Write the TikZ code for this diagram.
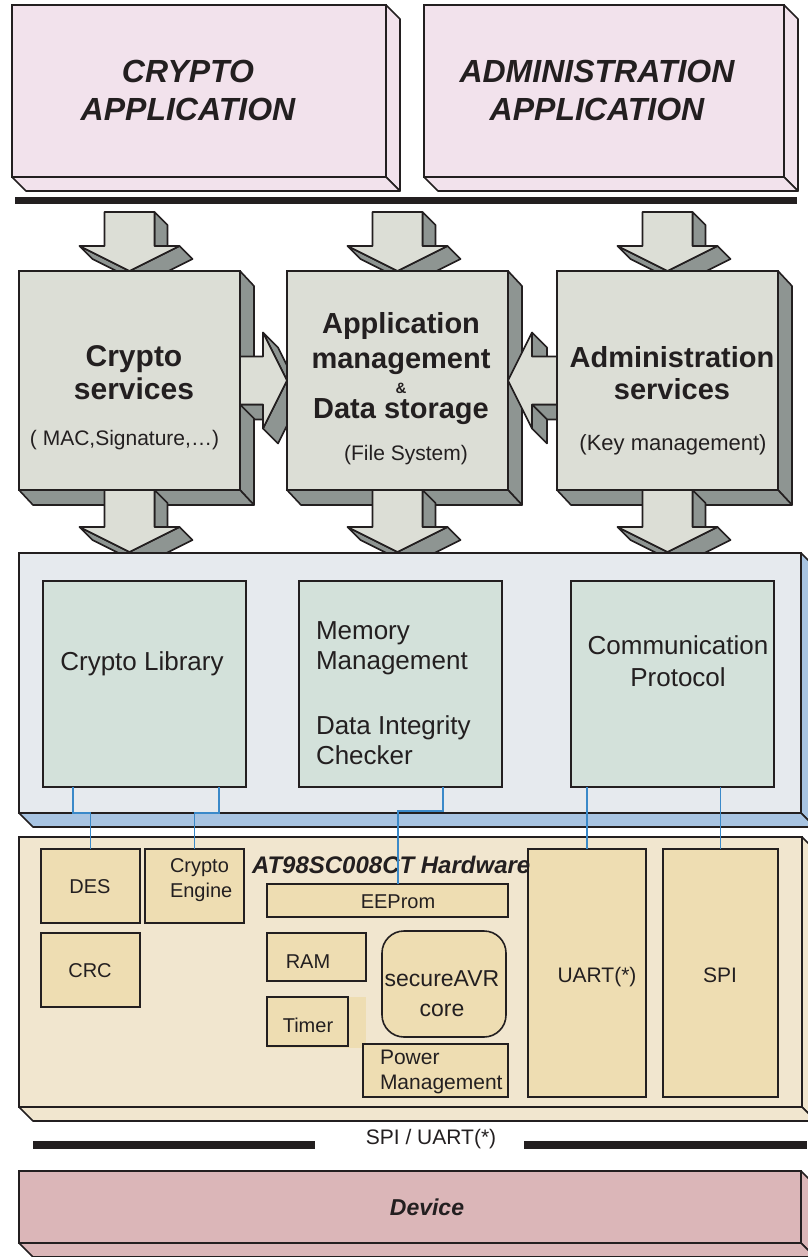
\documentclass[tikz,border=0pt]{standalone}
\usepackage{fontspec}
\setmainfont{Liberation Sans}
\usetikzlibrary{calc}
\definecolor{ink}{HTML}{231F20}
\definecolor{apppink}{HTML}{F2E2EC}
\definecolor{svcface}{HTML}{DCDED6}
\definecolor{svcside}{HTML}{8E9592}
\definecolor{swface}{HTML}{E6EAEE}
\definecolor{swside}{HTML}{A8C4E2}
\definecolor{swbox}{HTML}{D3E1DA}
\definecolor{hwface}{HTML}{F1E6CF}
\definecolor{hwbox}{HTML}{EEDDB2}
\definecolor{devpink}{HTML}{DBB6B8}
\definecolor{wirecol}{HTML}{3A89C9}
\tikzset{
  box/.style={draw=ink, line width=1.6pt, inner sep=0pt, outer sep=0pt, anchor=north west},
  face/.style={draw=ink, line width=1.6pt, line join=round},
  aside/.style={face, fill=svcside},
  aface/.style={face, fill=svcface},
  txt/.style={inner sep=0pt, outer sep=0pt, text=ink},
  wire/.style={draw=wirecol, line width=1.3pt},
}
\newcommand\extrude[4]{%
  \filldraw[#4] (#1.north east) -- ++(#2,#3) -- ([shift={(#2,#3)}]#1.south east) -- (#1.south east) -- cycle;
  \filldraw[#4] (#1.south west) -- ++(#2,#3) -- ([shift={(#2,#3)}]#1.south east) -- (#1.south east) -- cycle;}
\newcommand\blockdown[3]{%
  \begin{scope}[shift={(#1)}]
    \filldraw[aside] (25,-#2) -- (25,-25) -- ++(#3,#3) -- ({25+#3},{-#2+#3}) -- cycle;
    \filldraw[aside] (50,-25) -- (0,0) -- ++(#3,#3) -- ({50+#3},{-25+#3}) -- cycle;
    \filldraw[aside] (0,0) -- (-50,-25) -- ++(#3,#3) -- (#3,#3) -- cycle;
    \filldraw[aface] (0,0) -- (-50,-25) -- (-25,-25) -- (-25,-#2) -- (25,-#2) -- (25,-25) -- (50,-25) -- cycle;
  \end{scope}}
\newcommand\blockright[3]{%
  \begin{scope}[shift={(#1)}]
    \filldraw[aside] (-#2,24) -- (-24,24) -- ++(#3,#3) -- ({-#2+#3},{24+#3}) -- cycle;
    \filldraw[aside] (-24,48) -- (0,0) -- ++(#3,#3) -- ({-24+#3},{48+#3}) -- cycle;
    \filldraw[aside] (0,0) -- (-24,-48) -- ++(#3,#3) -- (#3,#3) -- cycle;
    \filldraw[aface] (0,0) -- (-24,-48) -- (-24,-24) -- (-#2,-24) -- (-#2,24) -- (-24,24) -- (-24,48) -- cycle;
  \end{scope}}
\newcommand\blockleft[3]{%
  \begin{scope}[shift={(#1)}]
    \filldraw[aside] (24,-48) -- (24,-24) -- ++(#3,#3) -- ({24+#3},{-48+#3}) -- cycle;
    \filldraw[aside] (#2,24) -- (24,24) -- ++(#3,#3) -- ({#2+#3},{24+#3}) -- cycle;
    \filldraw[aside] (24,24) -- (24,48) -- ++(#3,#3) -- ({24+#3},{24+#3}) -- cycle;
    \filldraw[aface] (0,0) -- (24,-48) -- (24,-24) -- (#2,-24) -- (#2,24) -- (24,24) -- (24,48) -- cycle;
  \end{scope}}
\begin{document}
\begin{tikzpicture}[x=1pt,y=-1pt]
\useasboundingbox (0,0) rectangle (807,1257);
\fill[white] (0,0) rectangle (807,1257);

% ---------- applications ----------
\node[box, fill=apppink, minimum width=374pt, minimum height=172pt] (ca) at (12,5) {};
\extrude{ca}{14}{14}{face, fill=apppink}
\node[box, fill=apppink, minimum width=360pt, minimum height=172pt] (aa) at (424,5) {};
\extrude{aa}{14}{14}{face, fill=apppink}
\node[txt, font=\bfseries\itshape\fontsize{32}{38}\selectfont, align=center, anchor=north] (catxt) at (188,60) {CRYPTO\\APPLICATION};
\node[txt, font=\bfseries\itshape\fontsize{32}{38}\selectfont, align=center, anchor=north] (aatxt) at (597,60) {ADMINISTRATION\\APPLICATION};
\fill[ink] (15,197) rectangle (797,204);

% ---------- services ----------
\blockdown{129.5,271}{59}{13}
\blockdown{397.5,271}{59}{13}
\blockdown{667.5,271}{59}{13}
\node[box, fill=svcface, minimum width=221pt, minimum height=219pt] (cs) at (19,271) {};
\extrude{cs}{14}{15}{aside}
\blockright{287,380.5}{47}{15}
\node[box, fill=svcface, minimum width=221pt, minimum height=219pt] (am) at (287,271) {};
\extrude{am}{14}{15}{aside}
\blockleft{am.east}{49}{15}
\node[box, fill=svcface, minimum width=221pt, minimum height=219pt] (as) at (557,271) {};
\extrude{as}{14}{15}{aside}

\node[txt, font=\bfseries\fontsize{30}{33}\selectfont, align=center, anchor=north] (cst) at (134,346) {Crypto\\services};
\node[txt, font=\fontsize{21}{21}\selectfont, anchor=base] (csd) at (124.5,445) {( MAC,Signature,…)};
\node[txt, font=\bfseries\fontsize{29}{35}\selectfont, align=center, anchor=north] (amt) at (401,312) {Application\\management\\[-10pt]{\fontsize{15}{15}\selectfont\&}\\[-10pt]Data storage};
\node[txt, font=\fontsize{21}{21}\selectfont, anchor=base] (amd) at (406,460) {(File System)};
\node[txt, font=\bfseries\fontsize{29}{32}\selectfont, align=center, anchor=north] (ast) at (672,346) {Administration\\services};
\node[txt, font=\fontsize{22}{22}\selectfont, anchor=base] (asd) at (673,450) {(Key management)};

% ---------- software layer ----------
\coordinate (swtop) at (0,552);
\blockdown{cs.south |- swtop}{62}{13}
\blockdown{am.south |- swtop}{62}{13}
\blockdown{as.south |- swtop}{62}{13}
\node[box, fill=swface, minimum width=782pt, minimum height=260pt] (sw) at (19,553) {};
\extrude{sw}{14}{14}{face, fill=swside}
\node[box, fill=swbox, minimum width=203pt, minimum height=206pt] (cl) at (43,581) {};
\node[box, fill=swbox, minimum width=203pt, minimum height=206pt] (mm) at (299,581) {};
\node[box, fill=swbox, minimum width=203pt, minimum height=206pt] (cp) at (571,581) {};
\node[txt, font=\fontsize{26}{26}\selectfont, anchor=base] (clt) at (142,670) {Crypto Library};
\node[txt, font=\fontsize{26}{30}\selectfont, align=left, anchor=north west] (mmt) at (316,622) {Memory\\Management\\[35pt]Data Integrity\\Checker};
\node[txt, font=\fontsize{26}{32}\selectfont, align=center, anchor=north] (cpt) at (678,636) {Communication\\Protocol};

% ---------- hardware layer ----------
\node[box, fill=hwface, minimum width=783pt, minimum height=270pt] (hw) at (19,837) {};
\extrude{hw}{14}{14}{face, fill=hwface}
\node[box, fill=hwbox, minimum width=99pt, minimum height=74pt] (des) at (41,849) {};
\node[box, fill=hwbox, minimum width=99pt, minimum height=74pt] (crc) at (41,933) {};
\node[box, fill=hwbox, minimum width=99pt, minimum height=74pt] (ce) at (145,849) {};
\node[box, fill=hwbox, minimum width=241pt, minimum height=33pt] (ee) at (267,884) {};
\node[box, fill=hwbox, minimum width=99pt, minimum height=48pt] (ram) at (267,933) {};
\fill[hwbox] (267,997) rectangle (366,1048);
\node[box, fill=hwbox, line width=2.2pt, minimum width=81pt, minimum height=49pt] (tim) at (267,997) {};
\node[box, fill=hwbox, rounded corners=22pt, minimum width=124pt, minimum height=106pt] (core) at (382,931) {};
\node[box, fill=hwbox, minimum width=145pt, minimum height=53pt] (pm) at (363,1044) {};
\node[box, fill=hwbox, minimum width=118pt, minimum height=248pt] (uart) at (528,849) {};
\node[box, fill=hwbox, minimum width=115pt, minimum height=248pt] (spi) at (663,849) {};

\node[txt, font=\bfseries\itshape\fontsize{24}{24}\selectfont, anchor=base west] (hwt) at (252,873) {AT98SC008CT Hardware};
\node[txt, font=\fontsize{20}{20}\selectfont, anchor=base] (dest) at (90,893) {DES};
\node[txt, font=\fontsize{20}{20}\selectfont, anchor=base] (crct) at (90,977) {CRC};
\node[txt, font=\fontsize{20}{25}\selectfont, align=left, anchor=north west] (cet) at (170,858.4) {Crypto\\Engine};
\node[txt, font=\fontsize{20}{20}\selectfont, anchor=base] (eet) at (398,908) {EEProm};
\node[txt, font=\fontsize{20}{20}\selectfont, anchor=base] (ramt) at (308,968) {RAM};
\node[txt, font=\fontsize{20}{20}\selectfont, anchor=base] (timt) at (308,1032) {Timer};
\node[txt, font=\fontsize{23}{30}\selectfont, align=center, anchor=north] (coret) at (442,970.2) {secureAVR\\core};
\node[txt, font=\fontsize{21}{25}\selectfont, align=left, anchor=north west] (pmt) at (380,1049.7) {Power\\Management};
\node[txt, font=\fontsize{21}{21}\selectfont, anchor=base] (uartt) at (597,982) {UART(*)};
\node[txt, font=\fontsize{21}{21}\selectfont, anchor=base] (spit) at (720,982) {SPI};

% ---------- wires ----------
\draw[wire] ([xshift=30pt]cl.south west) -- ++(0,26) -| (des.north);
\draw[wire] ([xshift=-27pt]cl.south east) -- ++(0,26) -| (ce.north);
\draw[wire] ([xshift=-59pt]mm.south east) -- ++(0,24) -| ([xshift=131pt]ee.north west);
\draw[wire] (uart.north |- cp.south) -- (uart.north);
\draw[wire] (spi.north |- cp.south) -- (spi.north);

% ---------- bus and device ----------
\fill[ink] (33,1141) rectangle (315,1149);
\fill[ink] (524,1141) rectangle (807,1149);
\node[txt, font=\fontsize{21}{21}\selectfont, anchor=base] (bus) at (431,1144) {SPI / UART(*)};
\node[box, fill=devpink, minimum width=782pt, minimum height=72pt] (dev) at (19,1171) {};
\extrude{dev}{14}{14}{face, fill=devpink}
\node[txt, font=\bfseries\itshape\fontsize{23}{23}\selectfont, anchor=base] (devt) at (427,1215) {Device};
\end{tikzpicture}
\end{document}
